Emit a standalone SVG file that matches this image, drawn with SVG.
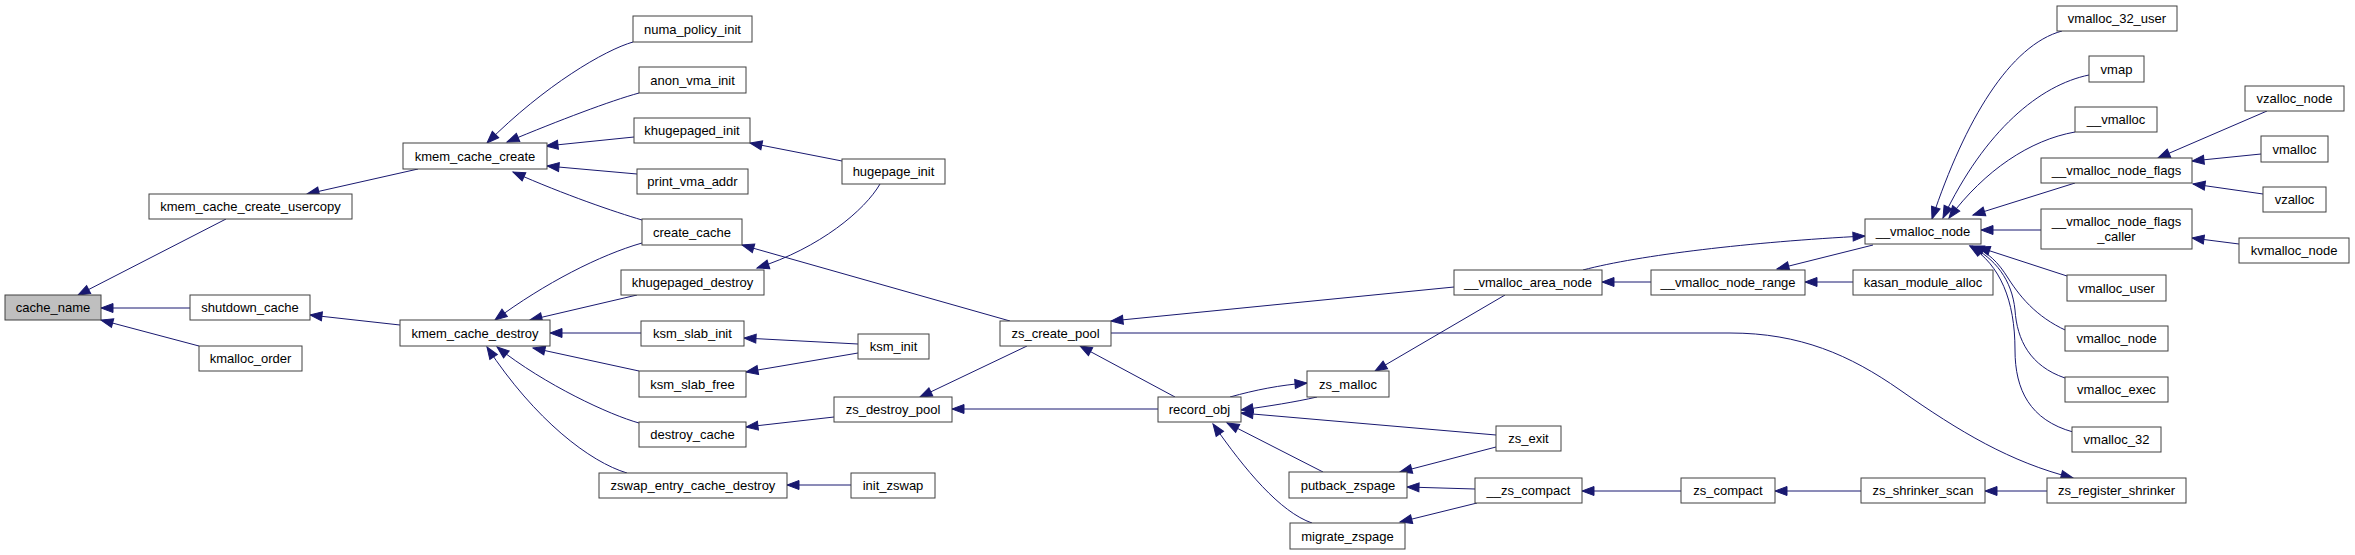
<svg xmlns="http://www.w3.org/2000/svg" width="2355" height="555" viewBox="0 0 2355 555">
<style>
.n rect{fill:#ffffff;stroke:#404040;stroke-width:1}
.n.g rect{fill:#bfbfbf}
.n text{font-family:"Liberation Sans",Arial,sans-serif;font-size:13px;fill:#000;text-anchor:middle}
#edges path{fill:none;stroke:#191970;stroke-width:1;marker-end:url(#a)}
</style>
<defs>
<marker id="a" markerUnits="userSpaceOnUse" markerWidth="14" markerHeight="12" viewBox="-13 -6 14 12" refX="0" refY="0" orient="auto" overflow="visible">
<path d="M-12,-4.5 L0,0 L-12,4.5 Z" fill="#191970" stroke="#191970" stroke-width="1"/>
</marker>
</defs>
<rect width="2355" height="555" fill="#ffffff"/>
<g id="edges">
<path d="M226,219 L78,295"/>
<path d="M190,308 L101,308"/>
<path d="M199,346 L101,320"/>
<path d="M418,169 L307,194"/>
<path d="M400,325 L310,315"/>
<path d="M633,42 C605,50 545,85 487,143"/>
<path d="M639,93 C610,101 560,120 507,142"/>
<path d="M634,137 L546,146"/>
<path d="M637,174 L547,166"/>
<path d="M642,220 C615,212 565,195 513,172"/>
<path d="M842,161 L750,143"/>
<path d="M880,184 C865,210 820,248 757,268"/>
<path d="M1010,321 L742,245"/>
<path d="M642,243 C600,255 545,283 495,320"/>
<path d="M637,295 L530,320"/>
<path d="M641,333 L550,333"/>
<path d="M639,371 L533,348"/>
<path d="M639,423 C610,415 545,385 497,347"/>
<path d="M627,473 C590,462 535,420 487,347"/>
<path d="M858,344 L744,338"/>
<path d="M858,353 L746,372"/>
<path d="M834,417 L746,427"/>
<path d="M851,485 L787,485"/>
<path d="M1027,346 L920,397"/>
<path d="M1158,409 L952,409"/>
<path d="M1175,397 L1080,346"/>
<path d="M1454,287 L1111,321"/>
<path d="M1111,333 L1730,333 C1800,333 1850,355 1900,390 C1960,432 2010,462 2073,478"/>
<path d="M1230,397 C1255,390 1280,385 1307,383"/>
<path d="M1317,397 C1295,402 1270,406 1241,410"/>
<path d="M1496,435 L1241,413"/>
<path d="M1323,472 L1227,423"/>
<path d="M1312,523 C1280,512 1245,470 1213,424"/>
<path d="M1505,295 L1375,371"/>
<path d="M1496,447 L1400,472"/>
<path d="M1475,489 L1407,487"/>
<path d="M1477,503 L1400,522"/>
<path d="M1681,491 L1582,491"/>
<path d="M1861,491 L1775,491"/>
<path d="M2047,491 L1985,491"/>
<path d="M1583,270 C1640,255 1750,242 1865,236"/>
<path d="M1873,245 L1777,269"/>
<path d="M1651,282 L1602,282"/>
<path d="M1853,282 L1805,282"/>
<path d="M2062,31 C2010,45 1965,120 1932,219"/>
<path d="M2089,75 C2040,85 1985,130 1943,218"/>
<path d="M2075,132 C2030,140 1985,170 1949,218"/>
<path d="M2075,183 L1973,215"/>
<path d="M2041,230 L1981,230"/>
<path d="M2067,276 L1978,247"/>
<path d="M2072,333 C2040,320 2022,300 2008,278 C1998,262 1988,252 1972,246"/>
<path d="M2065,378 C2030,366 2017,340 2015,310 C2012,280 1995,258 1970,246"/>
<path d="M2073,432 C2030,420 2015,390 2015,350 C2015,300 2000,265 1970,246"/>
<path d="M2267,111 L2158,158"/>
<path d="M2261,154 L2192,161"/>
<path d="M2263,194 L2193,184"/>
<path d="M2239,244 L2192,238"/>
</g>
<g id="cache_name" class="n g"><rect x="5" y="295" width="96" height="25"/><text x="53" y="312">cache_name</text></g>
<g id="kmem_cache_create_usercopy" class="n"><rect x="149" y="194" width="203" height="25"/><text x="250.5" y="211">kmem_cache_create_usercopy</text></g>
<g id="shutdown_cache" class="n"><rect x="190" y="295" width="120" height="25"/><text x="250" y="312">shutdown_cache</text></g>
<g id="kmalloc_order" class="n"><rect x="199" y="346" width="103" height="25"/><text x="250.5" y="363">kmalloc_order</text></g>
<g id="kmem_cache_create" class="n"><rect x="403" y="143" width="144" height="26"/><text x="475" y="160.5">kmem_cache_create</text></g>
<g id="kmem_cache_destroy" class="n"><rect x="400" y="320" width="150" height="26"/><text x="475" y="337.5">kmem_cache_destroy</text></g>
<g id="numa_policy_init" class="n"><rect x="633" y="16" width="119" height="26"/><text x="692.5" y="33.5">numa_policy_init</text></g>
<g id="anon_vma_init" class="n"><rect x="639" y="67" width="107" height="26"/><text x="692.5" y="84.5">anon_vma_init</text></g>
<g id="khugepaged_init" class="n"><rect x="634" y="118" width="116" height="25"/><text x="692" y="135">khugepaged_init</text></g>
<g id="print_vma_addr" class="n"><rect x="637" y="169" width="111" height="25"/><text x="692.5" y="186">print_vma_addr</text></g>
<g id="create_cache" class="n"><rect x="642" y="219" width="100" height="26"/><text x="692" y="236.5">create_cache</text></g>
<g id="khugepaged_destroy" class="n"><rect x="621" y="270" width="143" height="25"/><text x="692.5" y="287">khugepaged_destroy</text></g>
<g id="ksm_slab_init" class="n"><rect x="641" y="321" width="103" height="25"/><text x="692.5" y="338">ksm_slab_init</text></g>
<g id="ksm_slab_free" class="n"><rect x="639" y="371" width="107" height="26"/><text x="692.5" y="388.5">ksm_slab_free</text></g>
<g id="destroy_cache" class="n"><rect x="639" y="422" width="107" height="25"/><text x="692.5" y="439">destroy_cache</text></g>
<g id="zswap_entry_cache_destroy" class="n"><rect x="599" y="473" width="188" height="25"/><text x="693" y="490">zswap_entry_cache_destroy</text></g>
<g id="hugepage_init" class="n"><rect x="842" y="159" width="103" height="25"/><text x="893.5" y="176">hugepage_init</text></g>
<g id="ksm_init" class="n"><rect x="858" y="334" width="71" height="25"/><text x="893.5" y="351">ksm_init</text></g>
<g id="zs_destroy_pool" class="n"><rect x="834" y="397" width="118" height="25"/><text x="893" y="414">zs_destroy_pool</text></g>
<g id="init_zswap" class="n"><rect x="851" y="473" width="84" height="25"/><text x="893" y="490">init_zswap</text></g>
<g id="zs_create_pool" class="n"><rect x="1000" y="321" width="111" height="25"/><text x="1055.5" y="338">zs_create_pool</text></g>
<g id="record_obj" class="n"><rect x="1158" y="397" width="83" height="25"/><text x="1199.5" y="414">record_obj</text></g>
<g id="zs_malloc" class="n"><rect x="1307" y="371" width="82" height="26"/><text x="1348" y="388.5">zs_malloc</text></g>
<g id="putback_zspage" class="n"><rect x="1289" y="472" width="118" height="26"/><text x="1348" y="489.5">putback_zspage</text></g>
<g id="migrate_zspage" class="n"><rect x="1290" y="523" width="115" height="26"/><text x="1347.5" y="540.5">migrate_zspage</text></g>
<g id="__vmalloc_area_node" class="n"><rect x="1454" y="270" width="148" height="25"/><text x="1528" y="287">__vmalloc_area_node</text></g>
<g id="zs_exit" class="n"><rect x="1496" y="426" width="65" height="25"/><text x="1528.5" y="443">zs_exit</text></g>
<g id="__zs_compact" class="n"><rect x="1475" y="478" width="107" height="25"/><text x="1528.5" y="495">__zs_compact</text></g>
<g id="__vmalloc_node_range" class="n"><rect x="1651" y="270" width="154" height="25"/><text x="1728" y="287">__vmalloc_node_range</text></g>
<g id="zs_compact" class="n"><rect x="1681" y="478" width="94" height="25"/><text x="1728" y="495">zs_compact</text></g>
<g id="__vmalloc_node" class="n"><rect x="1865" y="219" width="116" height="25"/><text x="1923" y="236">__vmalloc_node</text></g>
<g id="kasan_module_alloc" class="n"><rect x="1853" y="270" width="140" height="25"/><text x="1923" y="287">kasan_module_alloc</text></g>
<g id="zs_shrinker_scan" class="n"><rect x="1861" y="478" width="124" height="25"/><text x="1923" y="495">zs_shrinker_scan</text></g>
<g id="vmalloc_32_user" class="n"><rect x="2057" y="6" width="120" height="25"/><text x="2117" y="23">vmalloc_32_user</text></g>
<g id="vmap" class="n"><rect x="2089" y="56" width="55" height="26"/><text x="2116.5" y="73.5">vmap</text></g>
<g id="__vmalloc" class="n"><rect x="2075" y="107" width="82" height="25"/><text x="2116" y="124">__vmalloc</text></g>
<g id="__vmalloc_node_flags" class="n"><rect x="2041" y="158" width="151" height="25"/><text x="2116.5" y="175">__vmalloc_node_flags</text></g>
<g id="__vmalloc_node_flags_caller" class="n"><rect x="2041" y="209" width="151" height="40"/><text x="2116.5" y="225.5">__vmalloc_node_flags</text><text x="2116.5" y="240.5">_caller</text></g>
<g id="vmalloc_user" class="n"><rect x="2067" y="275" width="99" height="26"/><text x="2116.5" y="292.5">vmalloc_user</text></g>
<g id="vmalloc_node" class="n"><rect x="2065" y="326" width="103" height="25"/><text x="2116.5" y="343">vmalloc_node</text></g>
<g id="vmalloc_exec" class="n"><rect x="2065" y="377" width="103" height="25"/><text x="2116.5" y="394">vmalloc_exec</text></g>
<g id="vmalloc_32" class="n"><rect x="2072" y="427" width="89" height="25"/><text x="2116.5" y="444">vmalloc_32</text></g>
<g id="zs_register_shrinker" class="n"><rect x="2047" y="478" width="139" height="25"/><text x="2116.5" y="495">zs_register_shrinker</text></g>
<g id="vzalloc_node" class="n"><rect x="2245" y="86" width="99" height="25"/><text x="2294.5" y="103">vzalloc_node</text></g>
<g id="vmalloc" class="n"><rect x="2261" y="136" width="67" height="26"/><text x="2294.5" y="153.5">vmalloc</text></g>
<g id="vzalloc" class="n"><rect x="2263" y="187" width="63" height="25"/><text x="2294.5" y="204">vzalloc</text></g>
<g id="kvmalloc_node" class="n"><rect x="2239" y="238" width="110" height="25"/><text x="2294" y="255">kvmalloc_node</text></g>
</svg>
